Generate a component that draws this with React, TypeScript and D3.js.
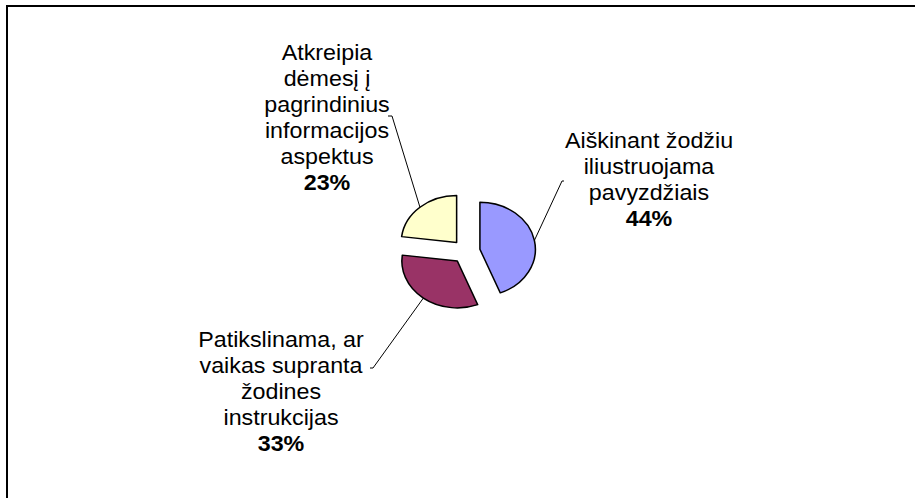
import * as d3 from "d3";

// slice data (clockwise from 12 o'clock)
const categories = [
  ["Aiškinant žodžiu", "iliustruojama", "pavyzdžiais"],
  ["Patikslinama, ar", "vaikas supranta", "žodines", "instrukcijas"],
  ["Atkreipia", "dėmesį į", "pagrindinius", "informacijos", "aspektus"],
];
const values = [44, 33, 23];
const percentLabels = ["44%", "33%", "23%"];
const colors = ["#9999FF", "#993366", "#FFFFCC"];

// label placement: text centre x, first baseline y, leader anchor
const labelLayout = [
  { x: 649, y: 148, ax: 562, ay: 181, tick: 2 },
  { x: 281, y: 347, ax: 373, ay: 368, tick: -3 },
  { x: 327, y: 60, ax: 392, ay: 116, tick: -4 },
];

const W = 915,
  H = 498;
const cx = 466,
  cy = 251.5,
  sx = 1.18,
  radius = 47,
  explode = 12,
  lineGap = 26,
  fontSize = 22.5,
  textScale = 1.035;

export default function App() {
  const pie = d3
    .pie<number>()
    .sort(null)
    .value((d) => d)
    .startAngle(0)
    .endAngle(2 * Math.PI);
  const arcs = pie(values);
  const arc = d3.arc<d3.PieArcDatum<number>>().innerRadius(0).outerRadius(radius);

  const font = "'Liberation Sans', Arial, sans-serif";

  return (
    <svg
      width={W}
      height={H}
      style={{ position: "absolute", left: 0, top: 0, background: "#fff" }}
    >
      <rect x={7} y={6} width={W + 20} height={H + 20} fill="none" stroke="#000" strokeWidth={2} />

      {arcs.map((a, i) => {
        const mid = (a.startAngle + a.endAngle) / 2;
        const ox = Math.sin(mid) * explode;
        const oy = -Math.cos(mid) * explode;
        // point on the arc at mid angle, in page coordinates
        const px = cx + (ox + Math.sin(mid) * radius) * sx;
        const py = cy + oy - Math.cos(mid) * radius;
        const l = labelLayout[i];
        return (
          <g key={i}>
            <g transform={`translate(${cx},${cy}) scale(${sx},1)`}>
              <path
                d={arc(a) || ""}
                transform={`translate(${ox},${oy})`}
                fill={colors[i]}
                stroke="#000"
                strokeWidth={1.3}
                strokeLinejoin="round"
              />
            </g>
            <polyline
              points={`${px},${py} ${l.ax},${l.ay} ${l.ax + l.tick},${l.ay}`}
              fill="none"
              stroke="#000"
              strokeWidth={1}
            />
          </g>
        );
      })}

      {categories.map((lines, i) => {
        const l = labelLayout[i];
        const all = [...lines, percentLabels[i]];
        return (
          <g key={i} fontFamily={font} fontSize={fontSize} fill="#000" textAnchor="middle">
            {all.map((t, j) => (
              <text
                key={j}
                transform={`translate(${l.x},${l.y + j * lineGap}) scale(${textScale},1)`}
                fontWeight={j === all.length - 1 ? "bold" : "normal"}
              >
                {t}
              </text>
            ))}
          </g>
        );
      })}
    </svg>
  );
}
